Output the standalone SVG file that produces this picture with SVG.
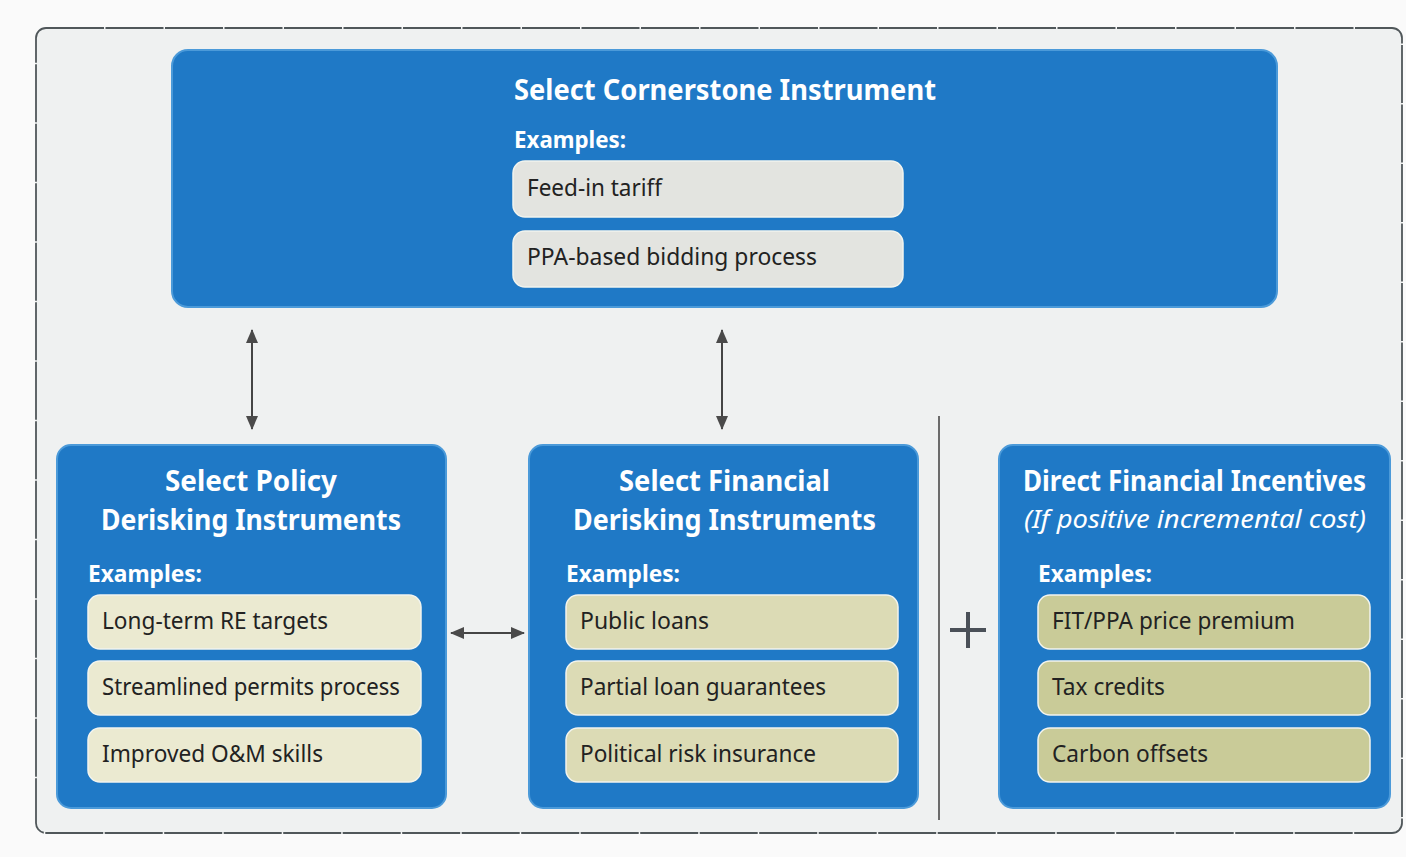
<svg xmlns="http://www.w3.org/2000/svg" width="1406" height="857" viewBox="0 0 1406 857">
  <defs>
    <style>
      .box { fill: #1f79c6; stroke: #4b9ad9; stroke-width: 2; }
      .pill { stroke: #f2f4ee; stroke-width: 1.5; }
      .pill-top { fill: #e3e4e0; }
      .pill-pol { fill: #ebead1; }
      .pill-fin { fill: #dcdbb5; }
      .pill-dir { fill: #c9cb98; }
      .title { font-family: "Noto Sans", "Open Sans", sans-serif; font-weight: bold; fill: #ffffff; font-size: 28px; }
      .sub { font-family: "Noto Sans", "Open Sans", sans-serif; font-style: italic; fill: #ffffff; font-size: 26px; }
      .ex { font-family: "Noto Sans", "Open Sans", sans-serif; font-weight: bold; fill: #ffffff; font-size: 24px; }
      .item { font-family: "Noto Sans", "Open Sans", sans-serif; fill: #222222; font-size: 23px; }
      .conn { stroke: #454545; stroke-width: 2; fill: none; }
    </style>
    <marker id="head" viewBox="0 0 14 12" refX="13" refY="6" markerWidth="14" markerHeight="12" markerUnits="userSpaceOnUse" orient="auto-start-reverse">
      <path d="M0,0 L14,6 L0,12 Z" fill="#4a4a4a"/>
    </marker>
  </defs>

  <!-- page and frame -->
  <rect x="0" y="0" width="1406" height="857" fill="#fafafa"/>
  <rect x="36" y="28" width="1366" height="805" rx="10" fill="#eff1f1" stroke="#50575a" stroke-width="1.8" stroke-dasharray="58 1.5"/>

  <!-- connectors -->
  <g id="connectors">
    <line class="conn" x1="252" y1="330" x2="252" y2="429" marker-start="url(#head)" marker-end="url(#head)"/>
    <line class="conn" x1="722" y1="330" x2="722" y2="429" marker-start="url(#head)" marker-end="url(#head)"/>
    <line class="conn" x1="451" y1="633" x2="524" y2="633" marker-start="url(#head)" marker-end="url(#head)"/>
    <line x1="939" y1="416" x2="939" y2="820" stroke="#4a4a4a" stroke-width="1.6"/>
    <path d="M968,612 V648 M950,630 H986" stroke="#4a5058" stroke-width="4" fill="none"/>
  </g>

  <!-- cornerstone instrument -->
  <g id="cornerstone">
    <rect class="box" x="172" y="50" width="1105" height="257" rx="16"/>
    <text class="title" x="514" y="100" textLength="422" lengthAdjust="spacingAndGlyphs">Select Cornerstone  Instrument</text>
    <text class="ex" x="514" y="148" textLength="112" lengthAdjust="spacingAndGlyphs">Examples:</text>
    <rect class="pill pill-top" x="513" y="161" width="390" height="56" rx="12"/>
    <text class="item" x="527" y="196" textLength="135" lengthAdjust="spacingAndGlyphs">Feed-in tariff</text>
    <rect class="pill pill-top" x="513" y="231" width="390" height="56" rx="12"/>
    <text class="item" x="527" y="265" textLength="290" lengthAdjust="spacingAndGlyphs">PPA-based bidding process</text>
  </g>

  <!-- policy derisking -->
  <g id="policy">
    <rect class="box" x="57" y="445" width="389" height="363" rx="14"/>
    <text class="title" x="165" y="491" textLength="172" lengthAdjust="spacingAndGlyphs">Select Policy</text>
    <text class="title" x="101" y="530" textLength="300" lengthAdjust="spacingAndGlyphs">Derisking Instruments</text>
    <text class="ex" x="88" y="582" textLength="114" lengthAdjust="spacingAndGlyphs">Examples:</text>
    <rect class="pill pill-pol" x="88" y="595" width="333" height="54" rx="12"/>
    <text class="item" x="102" y="629" textLength="226" lengthAdjust="spacingAndGlyphs">Long-term RE targets</text>
    <rect class="pill pill-pol" x="88" y="661" width="333" height="54" rx="12"/>
    <text class="item" x="102" y="695" textLength="298" lengthAdjust="spacingAndGlyphs">Streamlined permits process</text>
    <rect class="pill pill-pol" x="88" y="728" width="333" height="54" rx="12"/>
    <text class="item" x="102" y="762" textLength="221" lengthAdjust="spacingAndGlyphs">Improved O&amp;M skills</text>
  </g>

  <!-- financial derisking -->
  <g id="financial">
    <rect class="box" x="529" y="445" width="389" height="363" rx="14"/>
    <text class="title" x="619" y="491" textLength="211" lengthAdjust="spacingAndGlyphs">Select Financial</text>
    <text class="title" x="573" y="530" textLength="303" lengthAdjust="spacingAndGlyphs">Derisking Instruments</text>
    <text class="ex" x="566" y="582" textLength="114" lengthAdjust="spacingAndGlyphs">Examples:</text>
    <rect class="pill pill-fin" x="566" y="595" width="332" height="54" rx="12"/>
    <text class="item" x="580" y="629" textLength="129" lengthAdjust="spacingAndGlyphs">Public loans</text>
    <rect class="pill pill-fin" x="566" y="661" width="332" height="54" rx="12"/>
    <text class="item" x="580" y="695" textLength="246" lengthAdjust="spacingAndGlyphs">Partial loan guarantees</text>
    <rect class="pill pill-fin" x="566" y="728" width="332" height="54" rx="12"/>
    <text class="item" x="580" y="762" textLength="236" lengthAdjust="spacingAndGlyphs">Political risk insurance</text>
  </g>

  <!-- direct incentives -->
  <g id="incentives">
    <rect class="box" x="999" y="445" width="391" height="363" rx="14"/>
    <text class="title" x="1023" y="491" textLength="343" lengthAdjust="spacingAndGlyphs">Direct Financial Incentives</text>
    <text class="sub" x="1024" y="528" textLength="342" lengthAdjust="spacingAndGlyphs">(If positive incremental cost)</text>
    <text class="ex" x="1038" y="582" textLength="114" lengthAdjust="spacingAndGlyphs">Examples:</text>
    <rect class="pill pill-dir" x="1038" y="595" width="332" height="54" rx="12"/>
    <text class="item" x="1052" y="629" textLength="243" lengthAdjust="spacingAndGlyphs">FIT/PPA price premium</text>
    <rect class="pill pill-dir" x="1038" y="661" width="332" height="54" rx="12"/>
    <text class="item" x="1052" y="695" textLength="113" lengthAdjust="spacingAndGlyphs">Tax credits</text>
    <rect class="pill pill-dir" x="1038" y="728" width="332" height="54" rx="12"/>
    <text class="item" x="1052" y="762" textLength="156" lengthAdjust="spacingAndGlyphs">Carbon offsets</text>
  </g>
</svg>
